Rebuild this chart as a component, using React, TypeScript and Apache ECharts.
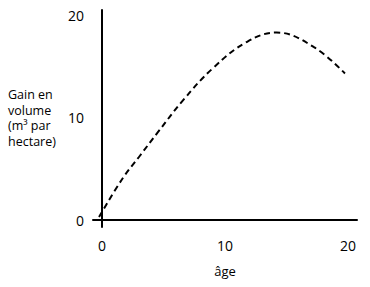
import React, { useEffect, useRef } from "react";
import * as echarts from "echarts";

const ages = [-0.24, 1.7, 3.1, 4.5, 6.6, 9.0, 11.8, 14.2, 17.2, 19.75];
const gains = [0.29, 4.1, 6.3, 8.5, 11.7, 14.8, 17.4, 18.3, 16.9, 14.3];
const xTickLabels = [0, 10, 20];
const yTickLabels = [0, 10, 20];
const yTitleLines = ["Gain en", "volume", "(m³ par", "hectare)"];
const xTitle = "âge";

export default function App() {
  const ref = useRef<HTMLDivElement>(null);
  useEffect(() => {
    if (!ref.current) return;
    const chart = echarts.init(ref.current, null, { renderer: "svg" });
    const font = "'Open Sans', 'Noto Sans', sans-serif";
    chart.setOption({
      animation: false,
      backgroundColor: "#ffffff",
      grid: { left: 93, right: 13, top: 10, bottom: 60 },
      xAxis: {
        type: "value",
        min: -0.73,
        max: 20.73,
        name: xTitle,
        nameLocation: "middle",
        nameGap: 37,
        nameTextStyle: { color: "#000", fontSize: 13, fontFamily: font },
        axisLine: { show: true, lineStyle: { color: "#000", width: 2 } },
        axisTick: { show: false },
        splitLine: { show: false },
        axisLabel: {
          customValues: xTickLabels,
          color: "#000",
          fontSize: 14,
          fontFamily: font,
          margin: 11,
        },
      },
      yAxis: {
        type: "value",
        min: -0.68,
        max: 20.5,
        axisLine: { show: true, lineStyle: { color: "#000", width: 2 } },
        axisTick: { show: false },
        splitLine: { show: false },
        axisLabel: {
          customValues: yTickLabels,
          color: "#000",
          fontSize: 14,
          fontFamily: font,
          margin: 9,
        },
      },
      graphic: yTitleLines.map((line, i) => ({
        type: "text",
        left: 8,
        top: 87 + i * 15.7,
        style: {
          text: line,
          fill: "#000",
          fontSize: 12.5,
          fontFamily: font,
          lineHeight: 15,
        },
      })),
      series: [
        {
          type: "line",
          data: ages.map((a, i) => [a, gains[i]]),
          smooth: 0.4,
          showSymbol: false,
          lineStyle: { color: "#000", width: 2, type: [6, 4] },
        },
      ],
    });
    return () => chart.dispose();
  }, []);
  return (
    <div
      ref={ref}
      style={{ position: "fixed", left: 0, top: 0, width: 370, height: 287 }}
    />
  );
}
